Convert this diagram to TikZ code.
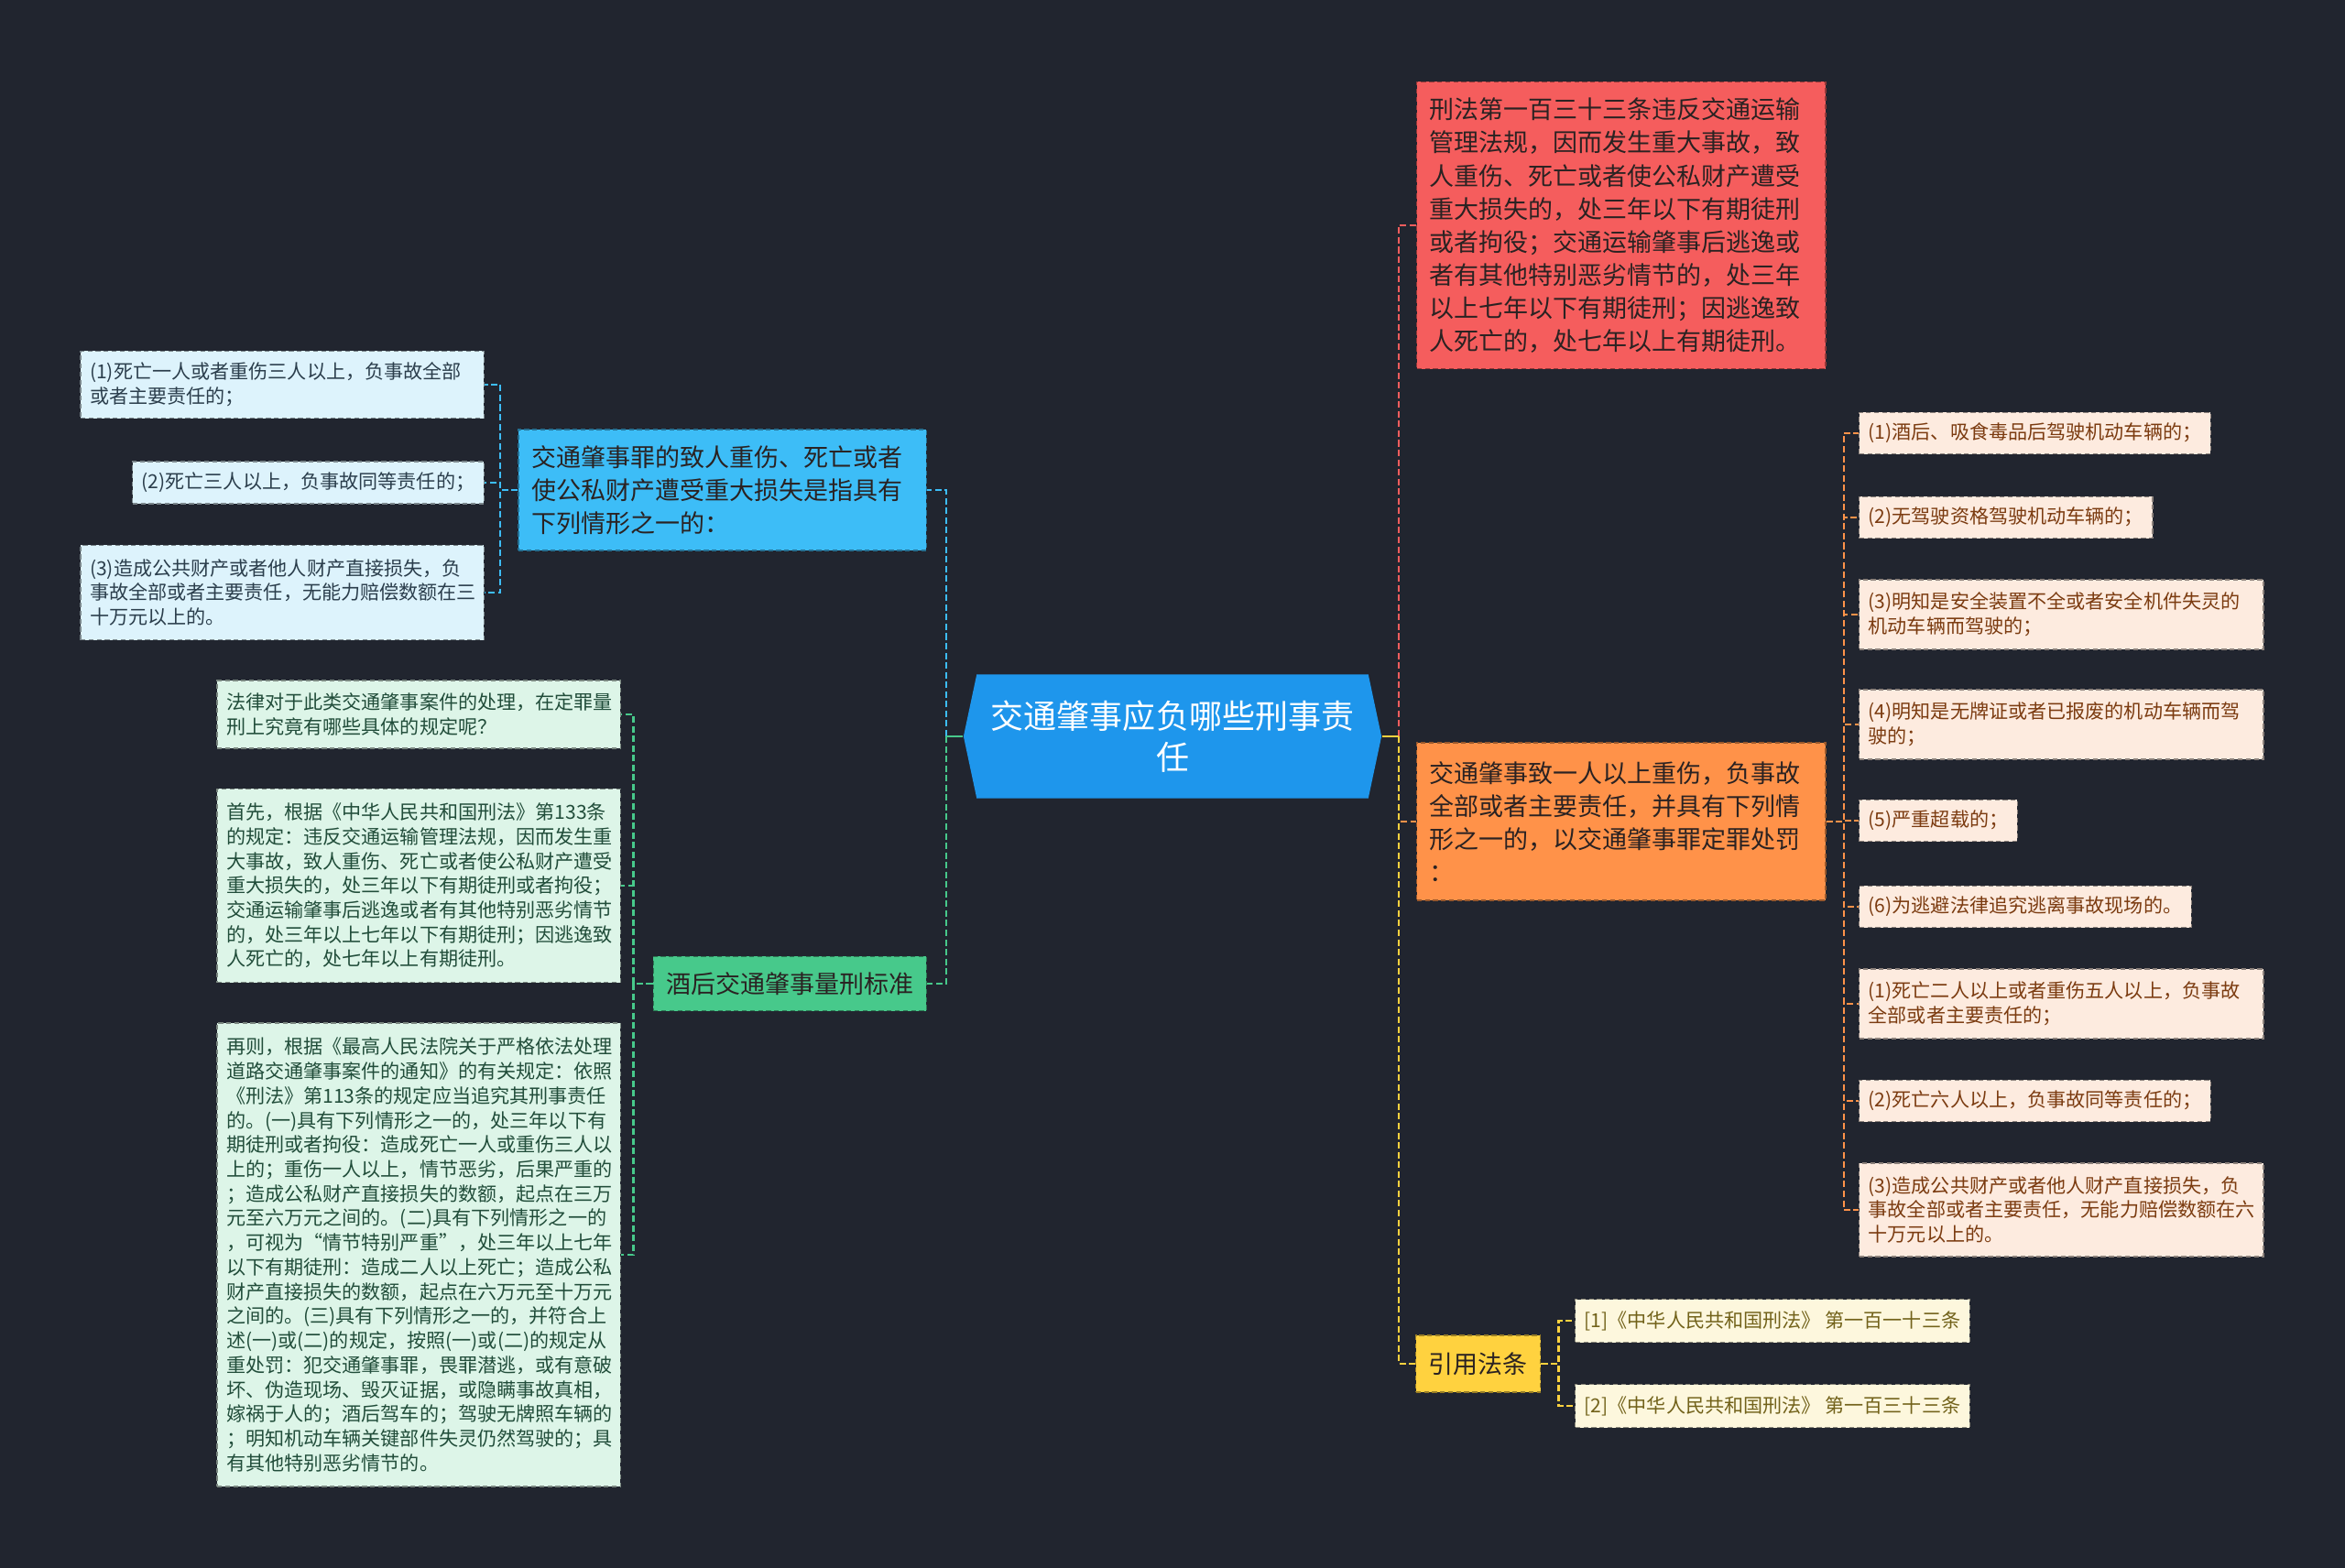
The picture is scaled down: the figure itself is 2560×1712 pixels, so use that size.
\documentclass[tikz,border=0pt]{standalone}
\usepackage{fontspec}
\setmainfont{Noto Sans CJK SC}
\usetikzlibrary{shapes.symbols}

\definecolor{bg}{HTML}{21252F}
\definecolor{rootfill}{HTML}{1E96EC}
\definecolor{bluefill}{HTML}{3DBDF7}
\definecolor{greenfill}{HTML}{47C98B}
\definecolor{redfill}{HTML}{F55D5D}
\definecolor{orangefill}{HTML}{FF9249}
\definecolor{yellowfill}{HTML}{FFD23F}
\definecolor{bluelight}{HTML}{DDF3FC}
\definecolor{greenlight}{HTML}{DDF5E8}
\definecolor{orangelight}{HTML}{FDEBDF}
\definecolor{yellowlight}{HTML}{FDF7DD}
\definecolor{bluetext}{HTML}{2B3E4C}
\definecolor{greentext}{HTML}{214D3A}
\definecolor{orangetext}{HTML}{7B3B10}
\definecolor{yellowtext}{HTML}{72621A}
\definecolor{headtext}{HTML}{2A2222}

\tikzset{
  rootbox/.style={shape=signal, signal to=east and west, signal pointer angle=156,
    fill=rootfill, text=white, align=center, minimum width=4.56cm, minimum height=1.35cm,
    font=\fontsize{10.24pt}{12.8pt}\selectfont},
  headbox/.style={draw, dash pattern=on 1.5pt off 1pt, line width=0.4pt, align=left,
    inner xsep=0.14cm, text=headtext, font=\fontsize{7.68pt}{10.24pt}\selectfont},
  leafbox/.style={draw, dash pattern=on 1.5pt off 1pt, line width=0.4pt, align=left,
    inner xsep=0.1cm, font=\fontsize{6pt}{7.6pt}\selectfont},
  link/.style={dash pattern=on 2pt off 1pt, line width=0.6pt},
  stemline/.style={line width=0.6pt}
}

\begin{document}
\begin{tikzpicture}[x=0.01cm, y=-0.01cm,
  bluenode/.style={headbox, fill=bluefill, draw=bluefill!60!black},
  greennode/.style={headbox, fill=greenfill, draw=greenfill!60!black},
  rednode/.style={headbox, fill=redfill, draw=redfill!60!black},
  orangenode/.style={headbox, fill=orangefill, draw=orangefill!60!black},
  yellownode/.style={headbox, fill=yellowfill, draw=yellowfill!60!black},
  blueleaf/.style={leafbox, fill=bluelight, draw=bluelight!55!black, text=bluetext},
  greenleaf/.style={leafbox, fill=greenlight, draw=greenlight!55!black, text=greentext},
  orangeleaf/.style={leafbox, fill=orangelight, draw=orangelight!55!black, text=orangetext},
  yellowleaf/.style={leafbox, fill=yellowlight, draw=yellowlight!55!black, text=yellowtext}]
\fill[bg] (0,0) rectangle (2560,1712);
\useasboundingbox (0,0) rectangle (2560,1712);

\node[rootbox] (root) at (1280,804) {交通肇事应负哪些刑事责\\任};

% left side
\node[bluenode, text width=4.17cm, minimum height=1.32cm, anchor=east] (injury) at (1012,535) {交通肇事罪的致人重伤、死亡或者\\使公私财产遭受重大损失是指具有\\下列情形之一的：};
\node[greennode, minimum height=0.59cm, anchor=east] (drunk) at (1012,1074) {酒后交通肇事量刑标准};

\node[blueleaf, text width=4.2cm, minimum height=0.73cm, anchor=east] (c1) at (529,420) {(1)死亡一人或者重伤三人以上，负事故全部\\或者主要责任的；};
\node[blueleaf, minimum height=0.46cm, anchor=east] (c2) at (529,527) {(2)死亡三人以上，负事故同等责任的；};
\node[blueleaf, text width=4.2cm, minimum height=1.03cm, anchor=east] (c3) at (529,647) {(3)造成公共财产或者他人财产直接损失，负\\事故全部或者主要责任，无能力赔偿数额在三\\十万元以上的。};

\node[greenleaf, text width=4.2cm, minimum height=0.74cm, anchor=east] (d1) at (678,780) {法律对于此类交通肇事案件的处理，在定罪量\\刑上究竟有哪些具体的规定呢？};
\node[greenleaf, text width=4.2cm, minimum height=2.11cm, anchor=east] (d2) at (678,967) {首先，根据《中华人民共和国刑法》第133条\\的规定：违反交通运输管理法规，因而发生重\\大事故，致人重伤、死亡或者使公私财产遭受\\重大损失的，处三年以下有期徒刑或者拘役；\\交通运输肇事后逃逸或者有其他特别恶劣情节\\的，处三年以上七年以下有期徒刑；因逃逸致\\人死亡的，处七年以上有期徒刑。};
\node[greenleaf, text width=4.2cm, minimum height=5.06cm, anchor=east] (d3) at (678,1370) {再则，根据《最高人民法院关于严格依法处理\\道路交通肇事案件的通知》的有关规定：依照\\《刑法》第113条的规定应当追究其刑事责任\\的。(一)具有下列情形之一的，处三年以下有\\期徒刑或者拘役：造成死亡一人或重伤三人以\\上的；重伤一人以上，情节恶劣，后果严重的\\；造成公私财产直接损失的数额，起点在三万\\元至六万元之间的。(二)具有下列情形之一的\\，可视为“情节特别严重”，处三年以上七年\\以下有期徒刑：造成二人以上死亡；造成公私\\财产直接损失的数额，起点在六万元至十万元\\之间的。(三)具有下列情形之一的，并符合上\\述(一)或(二)的规定，按照(一)或(二)的规定从\\重处罚：犯交通肇事罪，畏罪潜逃，或有意破\\坏、伪造现场、毁灭证据，或隐瞒事故真相，\\嫁祸于人的；酒后驾车的；驾驶无牌照车辆的\\；明知机动车辆关键部件失灵仍然驾驶的；具\\有其他特别恶劣情节的。};

% right side
\node[rednode, text width=4.18cm, minimum height=3.13cm, anchor=west] (law) at (1546,246) {刑法第一百三十三条违反交通运输\\管理法规，因而发生重大事故，致\\人重伤、死亡或者使公私财产遭受\\重大损失的，处三年以下有期徒刑\\或者拘役；交通运输肇事后逃逸或\\者有其他特别恶劣情节的，处三年\\以上七年以下有期徒刑；因逃逸致\\人死亡的，处七年以上有期徒刑。};
\node[orangenode, text width=4.18cm, minimum height=1.72cm, anchor=west] (hit) at (1546,897) {交通肇事致一人以上重伤，负事故\\全部或者主要责任，并具有下列情\\形之一的，以交通肇事罪定罪处罚\\：};
\node[yellownode, minimum height=0.62cm, anchor=west] (cite) at (1545,1489) {引用法条};

\node[orangeleaf, minimum height=0.45cm, anchor=west] (h1) at (2029,473) {(1)酒后、吸食毒品后驾驶机动车辆的；};
\node[orangeleaf, minimum height=0.45cm, anchor=west] (h2) at (2029,565) {(2)无驾驶资格驾驶机动车辆的；};
\node[orangeleaf, text width=4.21cm, minimum height=0.76cm, anchor=west] (h3) at (2029,671) {(3)明知是安全装置不全或者安全机件失灵的\\机动车辆而驾驶的；};
\node[orangeleaf, text width=4.21cm, minimum height=0.76cm, anchor=west] (h4) at (2029,791) {(4)明知是无牌证或者已报废的机动车辆而驾\\驶的；};
\node[orangeleaf, minimum height=0.45cm, anchor=west] (h5) at (2029,896) {(5)严重超载的；};
\node[orangeleaf, minimum height=0.45cm, anchor=west] (h6) at (2029,990) {(6)为逃避法律追究逃离事故现场的。};
\node[orangeleaf, text width=4.21cm, minimum height=0.76cm, anchor=west] (h7) at (2029,1096) {(1)死亡二人以上或者重伤五人以上，负事故\\全部或者主要责任的；};
\node[orangeleaf, minimum height=0.45cm, anchor=west] (h8) at (2029,1202) {(2)死亡六人以上，负事故同等责任的；};
\node[orangeleaf, text width=4.21cm, minimum height=1.02cm, anchor=west] (h9) at (2029,1321) {(3)造成公共财产或者他人财产直接损失，负\\事故全部或者主要责任，无能力赔偿数额在六\\十万元以上的。};

\node[yellowleaf, minimum height=0.47cm, anchor=west] (r1) at (1719,1442) {[1]《中华人民共和国刑法》 第一百一十三条};
\node[yellowleaf, minimum height=0.47cm, anchor=west] (r2) at (1719,1535) {[2]《中华人民共和国刑法》 第一百三十三条};

% connectors
\coordinate (lbus) at (1033,804);
\coordinate (rbus) at (1527,804);

\draw[link, bluefill] (lbus) |- (injury.east);
\draw[link, greenfill] (lbus) |- (drunk.east);
\draw[stemline, greenfill] (root.west) -- (lbus);
\draw[link, redfill] (rbus) |- (law.west);
\draw[link, orangefill] (rbus) |- (hit.west);
\draw[link, yellowfill] (rbus) |- (cite.west);
\draw[stemline, yellowfill] (root.east) -- (rbus);

\draw[link, bluefill] (injury.west) -- ++(-19,0) |- (c1.east);
\draw[link, bluefill] (injury.west) -- ++(-19,0) |- (c2.east);
\draw[link, bluefill] (injury.west) -- ++(-19,0) |- (c3.east);

\draw[link, greenfill] (drunk.west) -- ++(-21,0) |- (d1.east);
\draw[link, greenfill] (drunk.west) -- ++(-21,0) |- (d2.east);
\draw[link, greenfill] (drunk.west) -- ++(-21,0) |- (d3.east);

\draw[link, orangefill] (hit.east) -- ++(19,0) |- (h1.west);
\draw[link, orangefill] (hit.east) -- ++(19,0) |- (h2.west);
\draw[link, orangefill] (hit.east) -- ++(19,0) |- (h3.west);
\draw[link, orangefill] (hit.east) -- ++(19,0) |- (h4.west);
\draw[link, orangefill] (hit.east) -- ++(19,0) |- (h5.west);
\draw[link, orangefill] (hit.east) -- ++(19,0) |- (h6.west);
\draw[link, orangefill] (hit.east) -- ++(19,0) |- (h7.west);
\draw[link, orangefill] (hit.east) -- ++(19,0) |- (h8.west);
\draw[link, orangefill] (hit.east) -- ++(19,0) |- (h9.west);

\draw[link, yellowfill] (cite.east) -- ++(19,0) |- (r1.west);
\draw[link, yellowfill] (cite.east) -- ++(19,0) |- (r2.west);
\end{tikzpicture}
\end{document}
